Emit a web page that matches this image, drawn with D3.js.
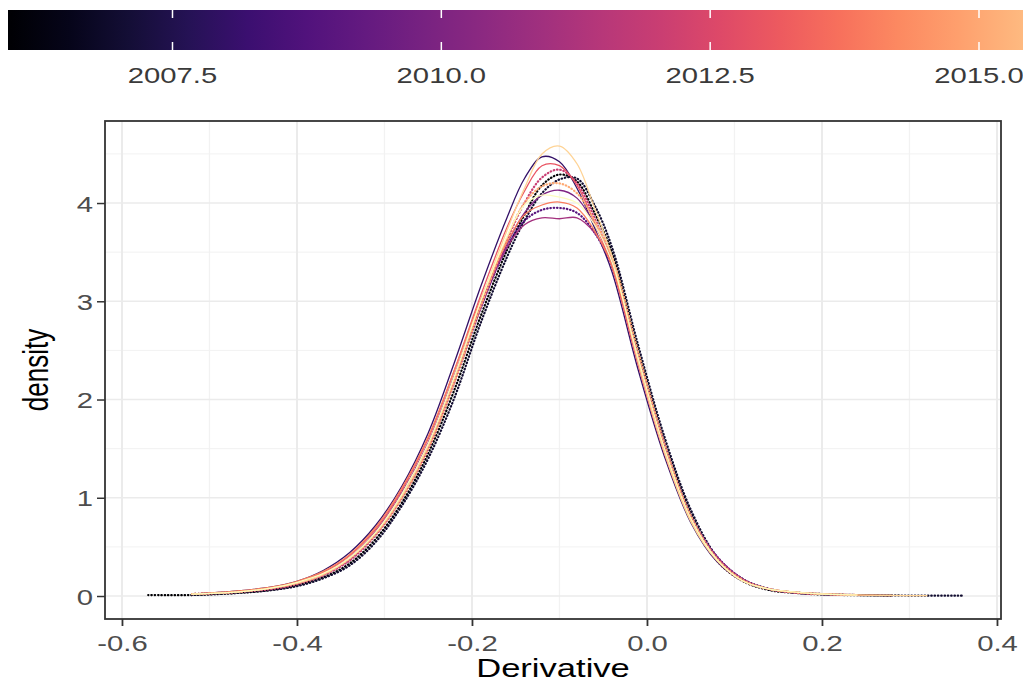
<!DOCTYPE html>
<html>
<head>
<meta charset="utf-8">
<script src="https://cdn.jsdelivr.net/npm/d3@7"></script>
<style>
  html, body { margin: 0; padding: 0; background: #ffffff; }
  svg { display: block; }
  text { font-family: "Liberation Sans", Arial, sans-serif; }
</style>
</head>
<body>
<svg id="chart" width="1023" height="684"></svg>
<script>
// ---------------- DATA ----------------
const gridX = [-0.57,-0.52,-0.47,-0.43,-0.40,-0.37,-0.34,-0.31,-0.28,-0.25,-0.22,-0.19,-0.16,-0.14,-0.12,-0.10,-0.08,-0.06,-0.04,-0.01,0.02,0.05,0.08,0.11,0.14,0.17,0.20,0.24,0.28,0.32,0.36];

const years = [2006,2007,2008,2009,2010,2011,2012,2013,2014,2015,2016,2017];
const lineTypes = ["dotted","dotted","solid","dotted","solid","solid","dotted","solid","solid","dotted","solid","solid"];

const d2006 = [0.01,0.01,0.03,0.06,0.11,0.19,0.33,0.58,0.95,1.45,2.10,2.85,3.52,3.88,4.18,4.29,4.22,3.90,3.50,2.50,1.58,0.85,0.36,0.15,0.06,0.03,0.015,0.008,0.004,null,null];
const d2007 = [null,0.01,0.03,0.06,0.10,0.18,0.31,0.55,0.92,1.40,2.02,2.78,3.45,3.82,4.10,4.24,4.25,3.98,3.55,2.55,1.62,0.88,0.40,0.17,0.07,0.035,0.02,0.01,0.006,0.004,0.003];
const d2008 = [null,0.02,0.05,0.09,0.15,0.26,0.44,0.72,1.12,1.66,2.38,3.15,3.85,4.25,4.47,4.42,4.15,3.75,3.30,2.30,1.42,0.75,0.35,0.15,0.07,0.03,0.015,0.008,null,null,null];
const d2009 = [null,0.02,0.04,0.08,0.13,0.22,0.38,0.65,1.05,1.55,2.22,2.95,3.55,3.82,3.93,3.95,3.90,3.70,3.35,2.45,1.55,0.82,0.40,0.17,0.07,0.035,0.02,null,null,null,null];
const d2010 = [null,null,0.04,0.08,0.13,0.22,0.37,0.63,1.00,1.50,2.18,2.92,3.58,3.90,4.08,4.13,4.05,3.78,3.42,2.45,1.52,0.80,0.38,0.16,0.07,0.035,0.02,0.01,null,null,null];
const d2011 = [null,0.02,0.04,0.08,0.13,0.23,0.39,0.66,1.05,1.56,2.25,2.98,3.55,3.78,3.85,3.84,3.85,3.70,3.38,2.45,1.55,0.82,0.40,0.17,0.07,0.035,0.02,0.01,null,null,null];
const d2012 = [null,0.02,0.04,0.07,0.12,0.21,0.36,0.62,1.00,1.50,2.18,2.95,3.62,4.00,4.26,4.34,4.20,3.85,3.42,2.42,1.50,0.80,0.38,0.16,0.07,0.035,0.02,0.01,null,null,null];
const d2013 = [null,0.02,0.04,0.08,0.14,0.24,0.41,0.68,1.08,1.60,2.30,3.06,3.75,4.12,4.38,4.38,4.18,3.80,3.35,2.35,1.45,0.77,0.36,0.15,0.07,0.035,0.02,0.01,null,null,null];
const d2014 = [null,0.02,0.05,0.09,0.15,0.25,0.42,0.70,1.10,1.62,2.30,3.02,3.60,3.88,3.98,4.01,3.95,3.72,3.36,2.40,1.50,0.78,0.37,0.15,0.07,0.04,0.02,0.01,0.005,null,null];
const d2015 = [null,0.02,0.04,0.08,0.13,0.22,0.38,0.63,1.00,1.50,2.18,2.95,3.64,4.00,4.17,4.20,4.10,3.82,3.45,2.48,1.55,0.82,0.38,0.16,0.07,0.035,0.02,0.01,null,null,null];
const d2016 = [null,0.02,0.04,0.08,0.13,0.22,0.38,0.64,1.02,1.53,2.22,3.00,3.72,4.15,4.50,4.58,4.40,3.95,3.45,2.38,1.46,0.76,0.36,0.15,0.07,0.04,0.025,0.012,0.006,0.004,null];
const d2017 = [null,0.02,0.04,0.08,0.14,0.23,0.39,0.65,1.04,1.55,2.24,3.00,3.66,3.98,4.08,4.06,4.00,3.78,3.40,2.42,1.50,0.79,0.37,0.15,0.07,0.04,0.02,0.01,null,null,null];

const densities = [d2006,d2007,d2008,d2009,d2010,d2011,d2012,d2013,d2014,d2015,d2016,d2017];

const xTicks = [-0.6,-0.4,-0.2,0.0,0.2,0.4];
const xMinor = [-0.5,-0.3,-0.1,0.1,0.3];
const yTicks = [0,1,2,3,4];
const yMinor = [0.5,1.5,2.5,3.5,4.5];
const legendTicks = [2007.5,2010.0,2012.5,2015.0];
const legendRange = [2006, 2017];

// ---------------- LAYOUT ----------------
const SX = 1.33; // horizontal text stretch of the reference
const svg = d3.select("#chart");
const panel = {left: 105, right: 1001, top: 121, bottom: 619};

const x = d3.scaleLinear().domain([-0.6194, 0.4046]).range([panel.left, panel.right]);
const y = d3.scaleLinear().domain([-0.234, 4.835]).range([panel.bottom, panel.top]);
const color = d3.scaleSequential(d3.interpolateMagma).domain(legendRange);

// ---------------- COLOURBAR ----------------
const lx = d3.scaleLinear().domain([2007.5, 2015.0]).range([172.5, 979]);
const barTop = 10, barBottom = 50;
const defs = svg.append("defs");
const grad = defs.append("linearGradient").attr("id", "cb")
  .attr("gradientUnits", "userSpaceOnUse")
  .attr("x1", lx(legendRange[0])).attr("x2", lx(legendRange[1]))
  .attr("y1", 0).attr("y2", 0);
d3.range(0, 1.0001, 0.05).forEach(t => {
  grad.append("stop").attr("offset", t).attr("stop-color", d3.interpolateMagma(t));
});
svg.append("rect")
  .attr("x", 8).attr("y", barTop)
  .attr("width", lx(legendRange[1]) - 8)
  .attr("height", barBottom - barTop)
  .attr("fill", "url(#cb)");
legendTicks.forEach(v => {
  svg.append("line").attr("x1", lx(v)).attr("x2", lx(v))
    .attr("y1", barTop).attr("y2", barTop + 8)
    .attr("stroke", "#ffffff").attr("stroke-width", 1.5);
  svg.append("line").attr("x1", lx(v)).attr("x2", lx(v))
    .attr("y1", barBottom - 8).attr("y2", barBottom)
    .attr("stroke", "#ffffff").attr("stroke-width", 1.5);
  svg.append("text")
    .attr("transform", `translate(${lx(v)},83) scale(${SX},1)`)
    .attr("text-anchor", "middle")
    .attr("font-size", 22).attr("fill", "#3A3A3A")
    .text(d3.format(".1f")(v));
});

// ---------------- GRID ----------------
const grid = svg.append("g");
grid.selectAll("line.xmin").data(xMinor).join("line")
  .attr("class", "xmin")
  .attr("x1", d => x(d)).attr("x2", d => x(d))
  .attr("y1", panel.top).attr("y2", panel.bottom)
  .attr("stroke", "#F2F2F2").attr("stroke-width", 1.3);
grid.selectAll("line.ymin").data(yMinor).join("line")
  .attr("class", "ymin")
  .attr("x1", panel.left).attr("x2", panel.right)
  .attr("y1", d => y(d)).attr("y2", d => y(d))
  .attr("stroke", "#F2F2F2").attr("stroke-width", 1);
grid.selectAll("line.xmaj").data(xTicks).join("line")
  .attr("class", "xmaj")
  .attr("x1", d => x(d)).attr("x2", d => x(d))
  .attr("y1", panel.top).attr("y2", panel.bottom)
  .attr("stroke", "#EBEBEB").attr("stroke-width", 2);
grid.selectAll("line.ymaj").data(yTicks).join("line")
  .attr("class", "ymaj")
  .attr("x1", panel.left).attr("x2", panel.right)
  .attr("y1", d => y(d)).attr("y2", d => y(d))
  .attr("stroke", "#EBEBEB").attr("stroke-width", 1.5);

// ---------------- CURVES ----------------
const line = d3.line()
  .defined(d => d[1] !== null)
  .x(d => x(d[0])).y(d => y(d[1]))
  .curve(d3.curveCatmullRom.alpha(0.5));

const curves = svg.append("g");
years.forEach((yr, i) => {
  const pts = gridX.map((gx, k) => [gx, densities[i][k]]);
  const p = curves.append("path")
    .attr("d", line(pts))
    .attr("fill", "none")
    .attr("stroke", color(yr))
    .attr("stroke-linecap", "round");
  if (lineTypes[i] === "dotted") {
    p.attr("stroke-width", 2.2).attr("stroke-dasharray", "0.5,2.8");
  } else {
    p.attr("stroke-width", 1.3);
  }
});

// ---------------- PANEL BORDER & AXES ----------------
svg.append("rect")
  .attr("x", panel.left).attr("y", panel.top)
  .attr("width", panel.right - panel.left).attr("height", panel.bottom - panel.top)
  .attr("fill", "none").attr("stroke", "#333333").attr("stroke-width", 1.8);

const fmtX = v => d3.format(".1f")(v).replace("\u2212", "-");
const xAxis = d3.axisBottom(x).tickValues(xTicks).tickSize(7).tickPadding(4);
const gx = svg.append("g").attr("transform", `translate(0,${panel.bottom})`).call(xAxis);
gx.select(".domain").remove();
gx.selectAll(".tick line").attr("stroke", "#333333").attr("stroke-width", 1.8);
gx.selectAll(".tick text").remove();
gx.selectAll(".tick").append("text")
  .attr("transform", `translate(0,32) scale(${SX},1)`)
  .attr("text-anchor", "middle")
  .attr("font-size", 22).attr("fill", "#4D4D4D")
  .text(d => fmtX(d));

const yAxis = d3.axisLeft(y).tickValues(yTicks).tickSize(8).tickPadding(4);
const gy = svg.append("g").attr("transform", `translate(${panel.left},0)`).call(yAxis);
gy.select(".domain").remove();
gy.selectAll(".tick line").attr("stroke", "#333333").attr("stroke-width", 1.5);
gy.selectAll(".tick text").remove();
gy.selectAll(".tick").append("text")
  .attr("transform", `translate(-12,8) scale(${SX},1)`)
  .attr("text-anchor", "end")
  .attr("font-size", 22).attr("fill", "#4D4D4D")
  .text(d => d);

// ---------------- TITLES ----------------
svg.append("text")
  .attr("transform", `translate(${(panel.left + panel.right) / 2},677) scale(${SX},1)`)
  .attr("text-anchor", "middle")
  .attr("font-size", 26).attr("fill", "#000000")
  .text("Derivative");

svg.append("text")
  .attr("transform", `translate(48,${(panel.top + panel.bottom) / 2}) scale(${SX},1) rotate(-90)`)
  .attr("text-anchor", "middle")
  .attr("font-size", 26).attr("fill", "#000000")
  .text("density");
</script>
</body>
</html>
